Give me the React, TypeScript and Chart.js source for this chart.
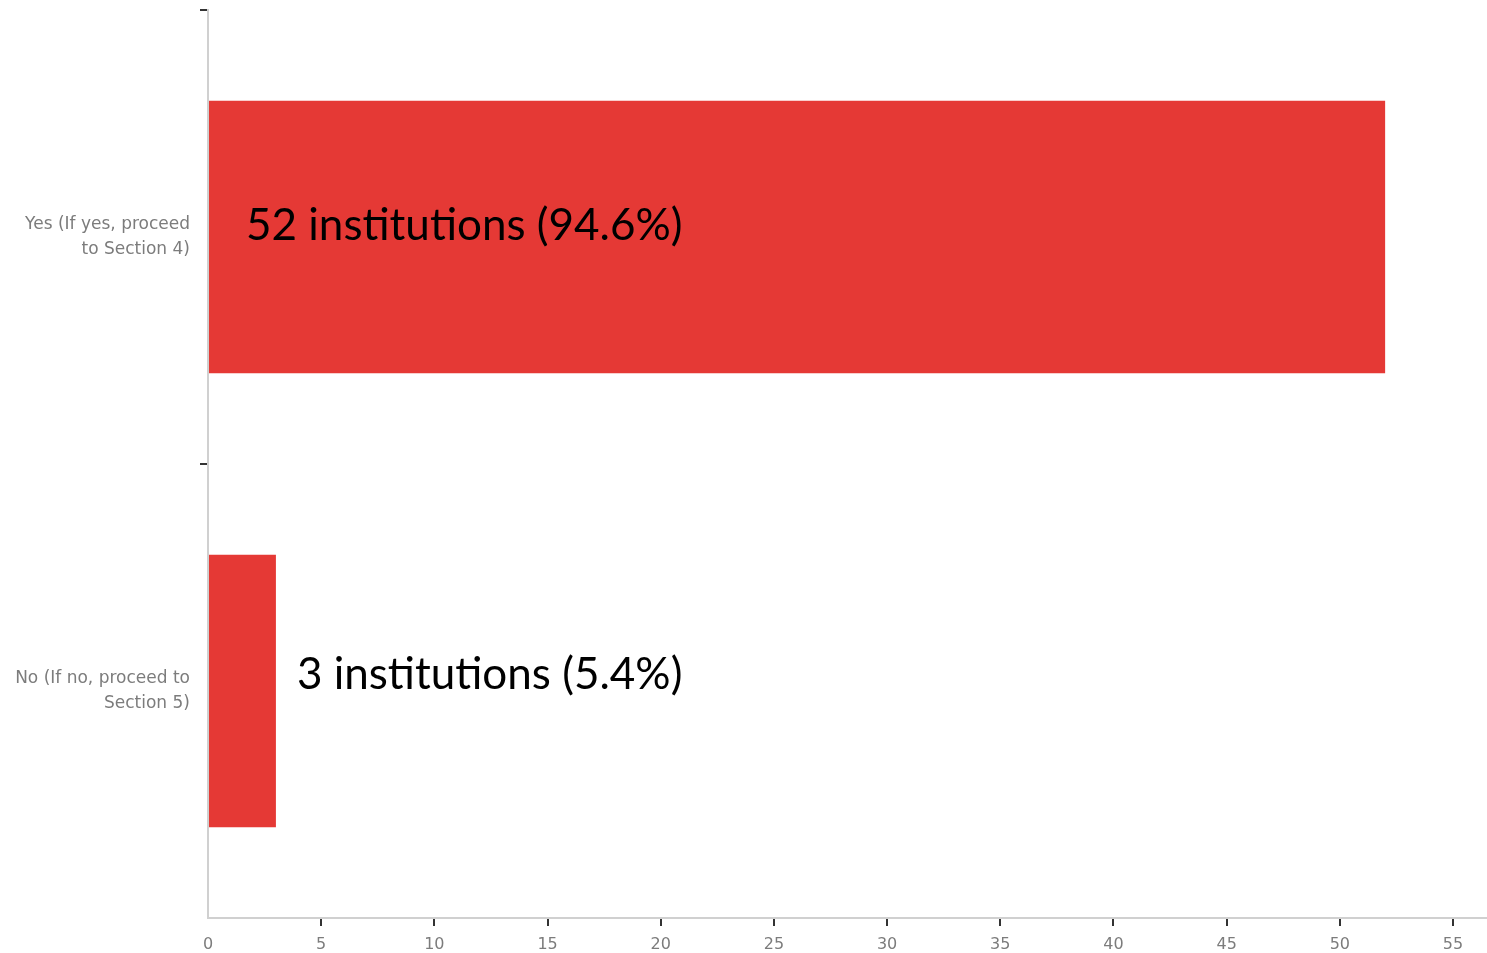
import React, { useEffect, useRef } from "react";
import { Chart, registerables } from "chart.js";

Chart.register(...registerables);

const categories: string[][] = [
  ["Yes (If yes, proceed", "to Section 4)"],
  ["No (If no, proceed to", "Section 5)"],
];
const counts: number[] = [52, 3];
const annotations: string[] = ["52 institutions (94.6%)", "3 institutions (5.4%)"];
const xTickValues: number[] = [0, 5, 10, 15, 20, 25, 30, 35, 40, 45, 50, 55];

const BAR_RED = "#E53935";
const LABEL_GRAY = "#7c7c7c";

const annotationPlugin = {
  id: "barAnnotations",
  afterDatasetsDraw(chart: any) {
    const meta = chart.getDatasetMeta(0);
    const ctx = chart.ctx;
    ctx.save();
    ctx.font = "44px Lato, 'Open Sans', sans-serif";
    ctx.fillStyle = "#000";
    ctx.textBaseline = "middle";
    ctx.textAlign = "left";
    meta.data.forEach((bar: any, i: number) => {
      const text = annotations[i];
      const w = ctx.measureText(text).width;
      const inside = bar.x - bar.base > w + 60;
      const x = inside ? bar.base + 37 : bar.x + 21;
      const y = bar.y - (inside ? 11 : 16);
      ctx.fillText(text, x, y);
    });
    ctx.restore();
  },
};

export default function App() {
  const canvasRef = useRef<HTMLCanvasElement | null>(null);

  useEffect(() => {
    document.body.style.margin = "0";
    const canvas = canvasRef.current;
    if (!canvas) return;
    const chart = new Chart(canvas, {
      type: "bar",
      data: {
        labels: categories,
        datasets: [
          {
            data: counts,
            backgroundColor: BAR_RED,
            borderWidth: 0,
            barPercentage: 0.6,
            categoryPercentage: 1,
          },
        ],
      },
      options: {
        indexAxis: "y",
        animation: false,
        responsive: false,
        maintainAspectRatio: false,
        layout: { padding: { top: 10, right: 0, left: 0, bottom: 0 } },
        plugins: {
          legend: { display: false },
          tooltip: { enabled: false },
        },
        scales: {
          x: {
            type: "linear",
            min: 0,
            max: 56.5,
            afterBuildTicks: (scale: any) => {
              scale.ticks = xTickValues.map((v) => ({ value: v }));
            },
            afterFit: (scale: any) => {
              scale.height = 35;
            },
            ticks: {
              includeBounds: false,
              color: LABEL_GRAY,
              font: { family: "'DejaVu Sans', sans-serif", size: 16 },
              padding: 9,
              maxRotation: 0,
            },
            grid: {
              drawOnChartArea: false,
              drawTicks: true,
              tickLength: 8,
              color: (c: any) => (c.tick && c.tick.value === 0 ? "rgba(0,0,0,0)" : "#333"),
              lineWidth: 2,
            },
            border: { color: "#d0d0d0", width: 2 },
          },
          y: {
            type: "category",
            afterFit: (scale: any) => {
              scale.width = 208;
              scale.paddingTop = 0;
              scale.paddingBottom = 0;
            },
            ticks: {
              color: LABEL_GRAY,
              font: { family: "'DejaVu Sans', sans-serif", size: 17, lineHeight: 1.47 },
              padding: 10,
            },
            grid: {
              drawOnChartArea: false,
              drawTicks: true,
              tickLength: 8,
              color: (c: any) => (c.type === "tick" ? "#333" : "rgba(0,0,0,0)"),
              lineWidth: 2,
              offset: true,
            },
            border: { color: "#d0d0d0", width: 2 },
          },
        },
      },
      plugins: [annotationPlugin],
    });
    return () => chart.destroy();
  }, []);

  return (
    <div style={{ position: "relative", width: 1487, height: 953, background: "#fff" }}>
      <canvas ref={canvasRef} width={1487} height={953} style={{ display: "block" }} />
    </div>
  );
}
